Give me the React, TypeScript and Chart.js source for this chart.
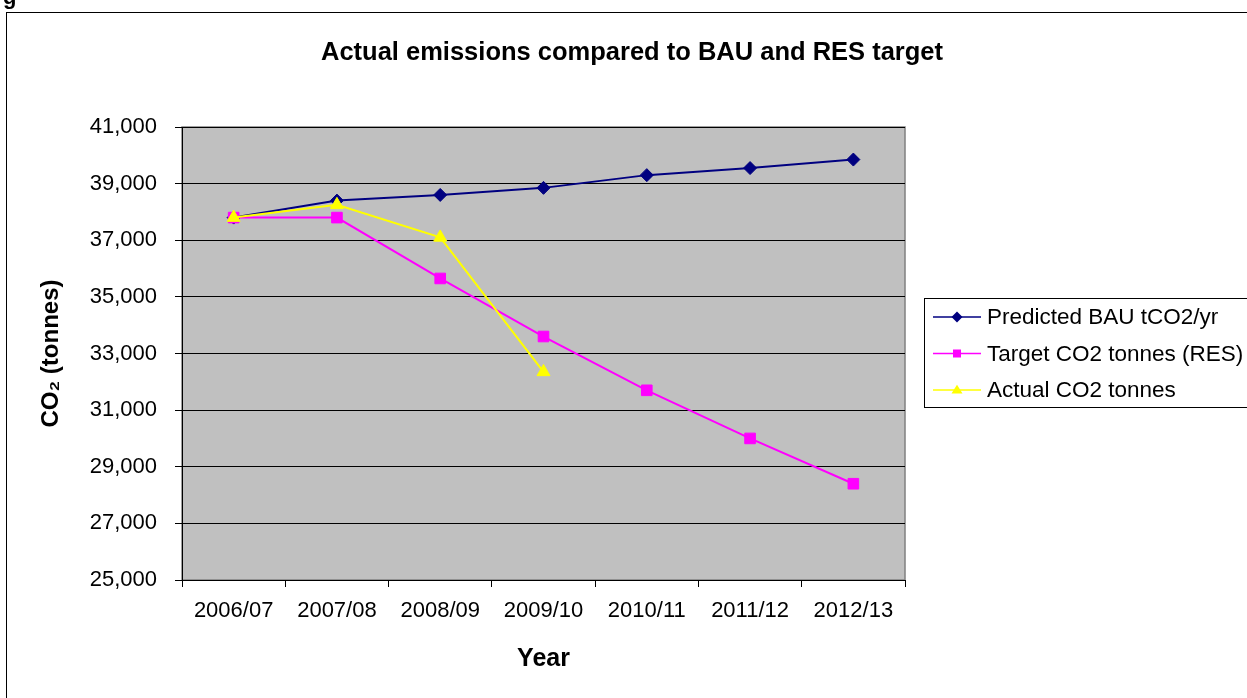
import React, { useEffect, useRef } from 'react';
import { Chart, registerables } from 'chart.js';

Chart.register(...registerables);

// Financial years on the category axis
const years = ['2006/07', '2007/08', '2008/09', '2009/10', '2010/11', '2011/12', '2012/13'];

// Emissions series, tonnes of CO2 per year
const bauValues = [37800, 38400, 38600, 38850, 39300, 39550, 39850];
const targetValues = [37800, 37800, 35650, 33600, 31700, 30000, 28400];
const actualValues: (number | null)[] = [37800, 38250, 37100, 32350, null, null, null];

// Value axis range
const yMin = 25000;
const yMax = 41000;
const yStep = 2000;

const FONT = "'Liberation Sans', Arial, Helvetica, sans-serif";

type Marker = 'rectRot' | 'rect' | 'triangle';

function drawMarker(ctx: CanvasRenderingContext2D, kind: Marker, x: number, y: number, r: number) {
  ctx.beginPath();
  if (kind === 'rectRot') {
    ctx.moveTo(x - r, y);
    ctx.lineTo(x, y - r);
    ctx.lineTo(x + r, y);
    ctx.lineTo(x, y + r);
  } else if (kind === 'rect') {
    ctx.rect(x - r, y - r, 2 * r, 2 * r);
  } else {
    const h = r * 1.6;
    ctx.moveTo(x, y - h * 0.6);
    ctx.lineTo(x + r, y + h * 0.4);
    ctx.lineTo(x - r, y + h * 0.4);
  }
  ctx.closePath();
  ctx.fill();
}

// Frame, caption fragment and grey plot background
const backdropPlugin = {
  id: 'backdrop',
  beforeDraw(chart: any) {
    const { ctx, chartArea: a } = chart;
    ctx.save();
    ctx.fillStyle = '#000';
    ctx.font = `bold 22px ${FONT}`;
    ctx.textAlign = 'left';
    ctx.textBaseline = 'alphabetic';
    ctx.fillText('g', 3, 4);

    ctx.strokeStyle = '#000';
    ctx.lineWidth = 1;
    ctx.strokeRect(6.5, 12.5, chart.width + 40, chart.height + 40);

    ctx.fillStyle = '#C0C0C0';
    ctx.fillRect(a.left, a.top, a.right - a.left, a.bottom - a.top);
    ctx.strokeStyle = '#808080';
    ctx.lineWidth = 1.5;
    ctx.strokeRect(a.left, a.top, a.right - a.left, a.bottom - a.top);
    ctx.restore();
  },
};

// Boxed legend to the right of the plot: line sample with marker, then label
const boxedLegendPlugin = {
  id: 'boxedLegend',
  afterDraw(chart: any) {
    const { ctx, chartArea: a } = chart;
    const mid = (a.top + a.bottom) / 2;
    const left = a.right + 19;
    const top = mid - 56;
    const rowGap = 36.5;
    ctx.save();
    ctx.strokeStyle = '#000';
    ctx.lineWidth = 1;
    ctx.strokeRect(Math.round(left) + 0.5, Math.round(top) + 0.5, chart.width, 109);
    chart.data.datasets.forEach((ds: any, i: number) => {
      const y = mid - rowGap + i * rowGap;
      ctx.strokeStyle = ds.borderColor;
      ctx.lineWidth = 1.5;
      ctx.beginPath();
      ctx.moveTo(left + 9, y);
      ctx.lineTo(left + 57, y);
      ctx.stroke();
      ctx.fillStyle = ds.backgroundColor;
      drawMarker(ctx, ds.pointStyle, left + 33, y, ds.pointStyle === 'rect' ? 4 : 5.5);
      ctx.fillStyle = '#000';
      ctx.font = `22.5px ${FONT}`;
      ctx.textAlign = 'left';
      ctx.textBaseline = 'middle';
      ctx.fillText(ds.label, left + 63, y + 1);
    });
    ctx.restore();
  },
};

export default function App() {
  const canvasRef = useRef<HTMLCanvasElement>(null);

  useEffect(() => {
    if (!canvasRef.current) return;
    const chart = new Chart(canvasRef.current, {
      type: 'line',
      data: {
        labels: years,
        datasets: [
          {
            label: 'Predicted BAU tCO2/yr',
            data: bauValues,
            borderColor: '#000080',
            backgroundColor: '#000080',
            borderWidth: 2,
            pointStyle: 'rectRot',
            pointRadius: 6.5,
            pointBorderWidth: 1,
            tension: 0,
            order: 3,
          },
          {
            label: 'Target CO2 tonnes (RES)',
            data: targetValues,
            borderColor: '#FF00FF',
            backgroundColor: '#FF00FF',
            borderWidth: 2,
            pointStyle: 'rect',
            pointRadius: 7.5,
            pointBorderWidth: 1,
            tension: 0,
            order: 2,
          },
          {
            label: 'Actual CO2 tonnes',
            data: actualValues,
            borderColor: '#FFFF00',
            backgroundColor: '#FFFF00',
            borderWidth: 2,
            pointStyle: 'triangle',
            pointRadius: 7.5,
            pointBorderWidth: 1,
            tension: 0,
            spanGaps: false,
            order: 1,
          },
        ],
      },
      options: {
        responsive: false,
        animation: false,
        devicePixelRatio: 1,
        layout: { padding: { left: 17, right: 0, top: 0, bottom: 0 } },
        plugins: {
          legend: { display: false },
          tooltip: { enabled: false },
          title: {
            display: true,
            text: 'Actual emissions compared to BAU and RES target',
            color: '#000',
            font: { family: FONT, size: 25.5, weight: 'bold' },
            padding: { top: 38, bottom: 58.4 },
          },
        },
        scales: {
          x: {
            type: 'category',
            offset: true,
            grid: {
              offset: true,
              drawOnChartArea: false,
              drawTicks: true,
              tickLength: 7,
              color: '#000',
              lineWidth: 1,
            },
            border: { color: '#000', width: 1 },
            ticks: {
              color: '#000',
              font: { family: FONT, size: 22 },
              padding: 11,
              maxRotation: 0,
              autoSkip: false,
            },
            title: {
              display: true,
              text: 'Year',
              color: '#000',
              font: { family: FONT, size: 25, weight: 'bold' },
              padding: { top: 0, bottom: 24 },
            },
            afterFit: (s: any) => {
              s.height = 118;
            },
          },
          y: {
            type: 'linear',
            position: 'left',
            min: yMin,
            max: yMax,
            grid: { color: '#000', lineWidth: 1, tickLength: 7, drawTicks: true },
            border: { color: '#000', width: 1 },
            ticks: {
              stepSize: yStep,
              color: '#000',
              font: { family: FONT, size: 22 },
              padding: 18,
              callback: (v: any) => Number(v).toLocaleString('en-US'),
            },
            title: {
              display: true,
              text: 'CO₂ (tonnes)',
              color: '#000',
              font: { family: FONT, size: 24, weight: 'bold' },
              padding: { top: 20, bottom: 0 },
            },
            afterFit: (s: any) => {
              s.width = 165;
            },
          },
          legendSpace: {
            type: 'linear',
            position: 'right',
            display: true,
            grid: { display: false, drawTicks: false },
            border: { display: false },
            ticks: { display: false },
            afterFit: (s: any) => {
              s.width = 342;
            },
          },
        },
      },
      plugins: [backdropPlugin, boxedLegendPlugin],
    } as any);
    return () => chart.destroy();
  }, []);

  return (
    <div
      style={{
        position: 'fixed',
        left: 0,
        top: 0,
        width: 1247,
        height: 698,
        overflow: 'hidden',
        background: '#fff',
      }}
    >
      <canvas ref={canvasRef} width={1247} height={698} style={{ display: 'block', width: 1247, height: 698 }} />
    </div>
  );
}
